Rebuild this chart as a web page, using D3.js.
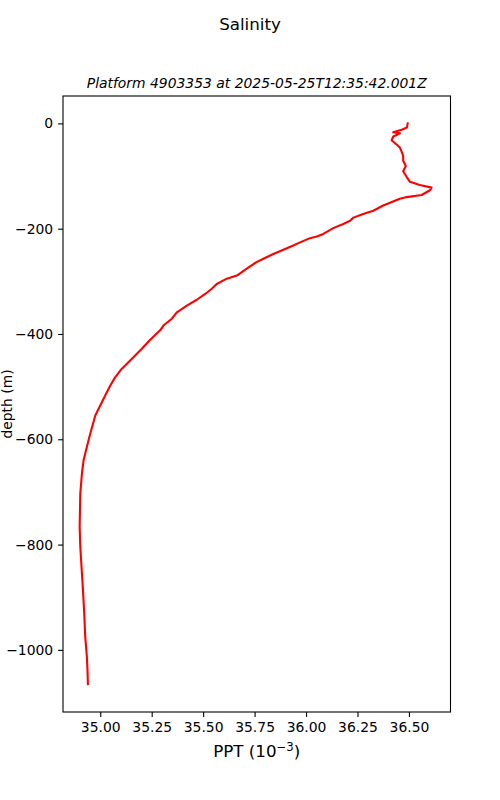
<!DOCTYPE html>
<html>
<head>
<meta charset="utf-8">
<script src="https://cdn.jsdelivr.net/npm/d3@7"></script>
<style>
  body { margin: 0; background: #fff; }
  svg { font-family: "DejaVu Sans", sans-serif; }
</style>
</head>
<body>
<svg id="chart" width="500" height="800"></svg>
<script>
// salinity profile (PPT, depth in m)
var salinity = [
  36.494, 36.490, 36.465, 36.448, 36.424, 36.456, 36.440, 36.424, 36.416, 36.440,
  36.456, 36.465, 36.472, 36.472, 36.485, 36.472, 36.488, 36.505, 36.553, 36.610,
  36.602, 36.562, 36.489, 36.456, 36.432, 36.375, 36.327, 36.278, 36.230, 36.214,
  36.181, 36.132, 36.084, 36.052, 36.019, 35.971, 35.938, 35.890, 35.841, 35.793,
  35.757, 35.712, 35.664, 35.615, 35.566, 35.542, 35.510, 35.469, 35.421, 35.372,
  35.348, 35.307, 35.291, 35.243, 35.202, 35.154, 35.105, 35.073, 35.049, 35.024,
  35.000, 34.976, 34.960, 34.943, 34.927, 34.919, 34.911, 34.903, 34.900, 34.903,
  34.911, 34.916, 34.922, 34.927, 34.935, 34.938, 34.940
];
var depth = [
  0, -8, -12, -14, -17, -19, -22, -25, -32, -40,
  -46, -54, -62, -71, -81, -91, -101, -111, -117, -122,
  -127, -136, -140, -143, -147, -156, -166, -172, -179, -185,
  -191, -199, -210, -215, -218, -226, -232, -240, -248, -257,
  -264, -276, -289, -295, -305, -314, -324, -335, -346, -359,
  -371, -384, -393, -411, -428, -447, -466, -482, -498, -517,
  -536, -555, -577, -602, -627, -640, -665, -703, -766, -804,
  -855, -886, -930, -975, -1013, -1038, -1065
];
var xTicks = [35.00, 35.25, 35.50, 35.75, 36.00, 36.25, 36.50];
var yTicks = [0, -200, -400, -600, -800, -1000];

var svg = d3.select("#chart");
var plotL = 63, plotR = 450.5, plotT = 96, plotB = 712;

var x = d3.scaleLinear().domain([34.819, 36.702]).range([plotL, plotR]);
var y = d3.scaleLinear().domain([52, -1118]).range([plotT, plotB]);

svg.append("text")
  .attr("x", 250).attr("y", 30)
  .attr("text-anchor", "middle")
  .style("font-size", "16.7px")
  .text("Salinity");

svg.append("text")
  .attr("x", (plotL + plotR) / 2).attr("y", 88)
  .attr("text-anchor", "middle")
  .style("font-size", "13.9px")
  .style("font-style", "italic")
  .text("Platform 4903353 at 2025-05-25T12:35:42.001Z");

var minus = function(v) { return String(v).replace("-", "\u2212"); };

var xAxis = svg.append("g")
  .attr("transform", "translate(0," + plotB + ")")
  .call(d3.axisBottom(x).tickValues(xTicks).tickFormat(d3.format(".2f"))
    .tickSize(4.9).tickPadding(4.9));

var yAxis = svg.append("g")
  .attr("transform", "translate(" + plotL + ",0)")
  .call(d3.axisLeft(y).tickValues(yTicks).tickFormat(minus)
    .tickSize(4.9).tickPadding(4.9));

[xAxis, yAxis].forEach(function(g) {
  g.select(".domain").remove();
  g.selectAll(".tick line").attr("stroke", "#000").attr("stroke-width", 1.1);
  g.selectAll(".tick text")
    .attr("fill", "#000")
    .style("font-size", "13.9px")
    .style("font-family", "DejaVu Sans, sans-serif");
});

var line = d3.line()
  .x(function(d, i) { return x(salinity[i]); })
  .y(function(d) { return y(d); });

svg.append("path")
  .datum(depth)
  .attr("d", line)
  .attr("fill", "none")
  .attr("stroke", "#ff0000")
  .attr("stroke-width", 2.1)
  .attr("stroke-linejoin", "round")
  .attr("stroke-linecap", "square");

svg.append("rect")
  .attr("x", plotL).attr("y", plotT)
  .attr("width", plotR - plotL).attr("height", plotB - plotT)
  .attr("fill", "none")
  .attr("stroke", "#000")
  .attr("stroke-width", 1.1);

var xl = svg.append("text")
  .attr("x", (plotL + plotR) / 2).attr("y", 757)
  .attr("text-anchor", "middle")
  .style("font-size", "16.7px");
xl.append("tspan").text("PPT (10");
xl.append("tspan").attr("dy", -6).style("font-size", "11.7px").text("\u22123");
xl.append("tspan").attr("dy", 6).text(")");

svg.append("text")
  .attr("transform", "translate(11.5," + (plotT + plotB) / 2 + ") rotate(-90)")
  .attr("text-anchor", "middle")
  .style("font-size", "13.9px")
  .text("depth (m)");
</script>
</body>
</html>
